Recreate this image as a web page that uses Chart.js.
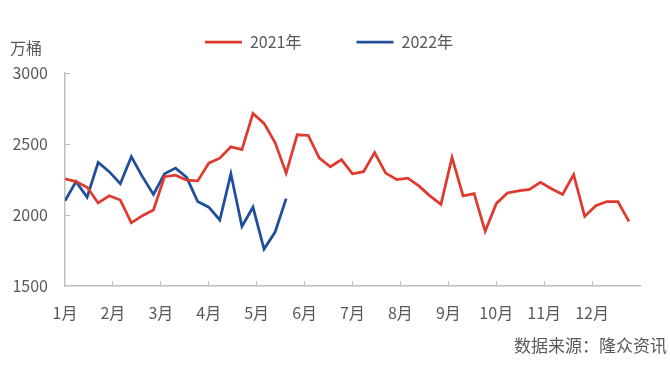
<!DOCTYPE html>
<html>
<head>
<meta charset="utf-8">
<script src="https://cdn.jsdelivr.net/npm/chart.js@4/dist/chart.umd.min.js"></script>
<style>
  body { margin: 0; background: #fff; }
  #wrap { position: relative; width: 670px; height: 380px; }
  .txt { position: absolute; font-family: "Noto Sans CJK SC", sans-serif; color: #595959; font-size: 16px; line-height: 20px; white-space: nowrap; }
</style>
</head>
<body>
<div id="wrap">
  <canvas id="myChart"></canvas>
  <div class="txt" style="left:10px; top:37px;">万桶</div>
  <div class="txt" style="right:3px; top:335px; font-size:17px;">数据来源：隆众资讯</div>
</div>
<script>
/* 周度数据，每年52周，x轴按月份刻度 */
var monthLabels = ['1月', '2月', '3月', '4月', '5月', '6月', '7月', '8月', '9月', '10月', '11月', '12月'];
var yTicks = [1500, 2000, 2500, 3000];

var data2021 = [2255, 2235, 2195, 2085, 2135, 2105, 1945, 1995, 2035, 2270,
                2280, 2245, 2240, 2365, 2400, 2480, 2460, 2715, 2645, 2510,
                2295, 2565, 2560, 2400, 2340, 2390, 2290, 2305, 2440, 2295,
                2250, 2260, 2205, 2135, 2075, 2405, 2135, 2150, 1885, 2080,
                2155, 2170, 2180, 2230, 2185, 2145, 2285, 1990, 2065, 2095,
                2095, 1955];
var data2022 = [2100, 2235, 2125, 2370, 2305, 2220, 2410, 2270, 2145, 2290,
                2330, 2265, 2095, 2055, 1965, 2290, 1920, 2055, 1760, 1880,
                2115];

var weeksPerYear = 52;

// 周序号 -> 月份坐标
function toPoints(arr) {
    return arr.map(function (v, i) {
        return { x: i * monthLabels.length / weeksPerYear, y: v };
    });
}

var axisColor = '#bfbfbf';
var textColor = '#595959';
var font = { family: '"Noto Sans CJK SC", sans-serif', size: 16 };

var ctx = document.getElementById('myChart').getContext('2d');
var myChart = new Chart(ctx, {
    type: 'line',
    data: {
        datasets: [{
            label: '2021年',
            data: toPoints(data2021),
            borderColor: '#e03a2f',
            backgroundColor: '#e03a2f',
            borderWidth: 2.75,
            pointRadius: 0,
            tension: 0
        }, {
            label: '2022年',
            data: toPoints(data2022),
            borderColor: '#1f4e9a',
            backgroundColor: '#1f4e9a',
            borderWidth: 2.75,
            pointRadius: 0,
            tension: 0
        }]
    },
    options: {
        responsive: true,
        maintainAspectRatio: false,
        animation: false,
        layout: {
            padding: { top: 11, right: 12, bottom: 0, left: 0 }
        },
        scales: {
            x: {
                type: 'linear',
                min: 0,
                max: monthLabels.length,
                afterFit: function (scale) { scale.height = 94; },
                grid: {
                    drawOnChartArea: false,
                    tickLength: -5, // 刻度线朝内
                    color: function (c) {
                        return (c.tick && c.tick.value > 0 && c.tick.value < monthLabels.length) ? axisColor : 'rgba(0,0,0,0)';
                    }
                },
                border: { color: axisColor, width: 1.5 },
                ticks: {
                    stepSize: 1,
                    autoSkip: false,
                    maxRotation: 0,
                    padding: 22,
                    color: textColor,
                    font: font,
                    callback: function (v) { return monthLabels[v] || ''; }
                }
            },
            y: {
                min: yTicks[0],
                max: yTicks[yTicks.length - 1],
                afterFit: function (scale) { scale.width = 65; },
                afterBuildTicks: function (scale) {
                    scale.ticks = yTicks.map(function (v) { return { value: v }; });
                },
                grid: {
                    drawOnChartArea: false,
                    tickLength: -5,
                    color: function (c) {
                        return (c.tick && c.tick.value > yTicks[0]) ? axisColor : 'rgba(0,0,0,0)';
                    }
                },
                border: { color: axisColor, width: 1.5 },
                ticks: {
                    padding: 22,
                    color: textColor,
                    font: font,
                    callback: function (v) { return String(v); }
                }
            },
            // 右侧空白轴，只占位
            yRight: {
                position: 'right',
                afterFit: function (scale) { scale.width = 18; },
                grid: { display: false },
                border: { display: false },
                ticks: { display: false }
            }
        },
        plugins: {
            legend: {
                display: true,
                position: 'top',
                labels: {
                    usePointStyle: true,
                    pointStyle: 'line',
                    pointStyleWidth: 37,
                    padding: 23,
                    color: textColor,
                    font: font,
                    generateLabels: function (chart) {
                        var items = Chart.defaults.plugins.legend.labels.generateLabels(chart);
                        items.forEach(function (it, i) {
                            it.pointStyle = 'line';
                            if (i === 0) it.text = it.text + '\u3000\u3000';
                        });
                        return items;
                    }
                }
            },
            // 图例和绘图区之间留空
            subtitle: {
                display: true,
                text: '',
                weight: 500,
                font: { size: 1, lineHeight: 1 },
                padding: { top: 6, bottom: 6 }
            },
            tooltip: { enabled: false }
        }
    }
});
</script>
</body>
</html>
